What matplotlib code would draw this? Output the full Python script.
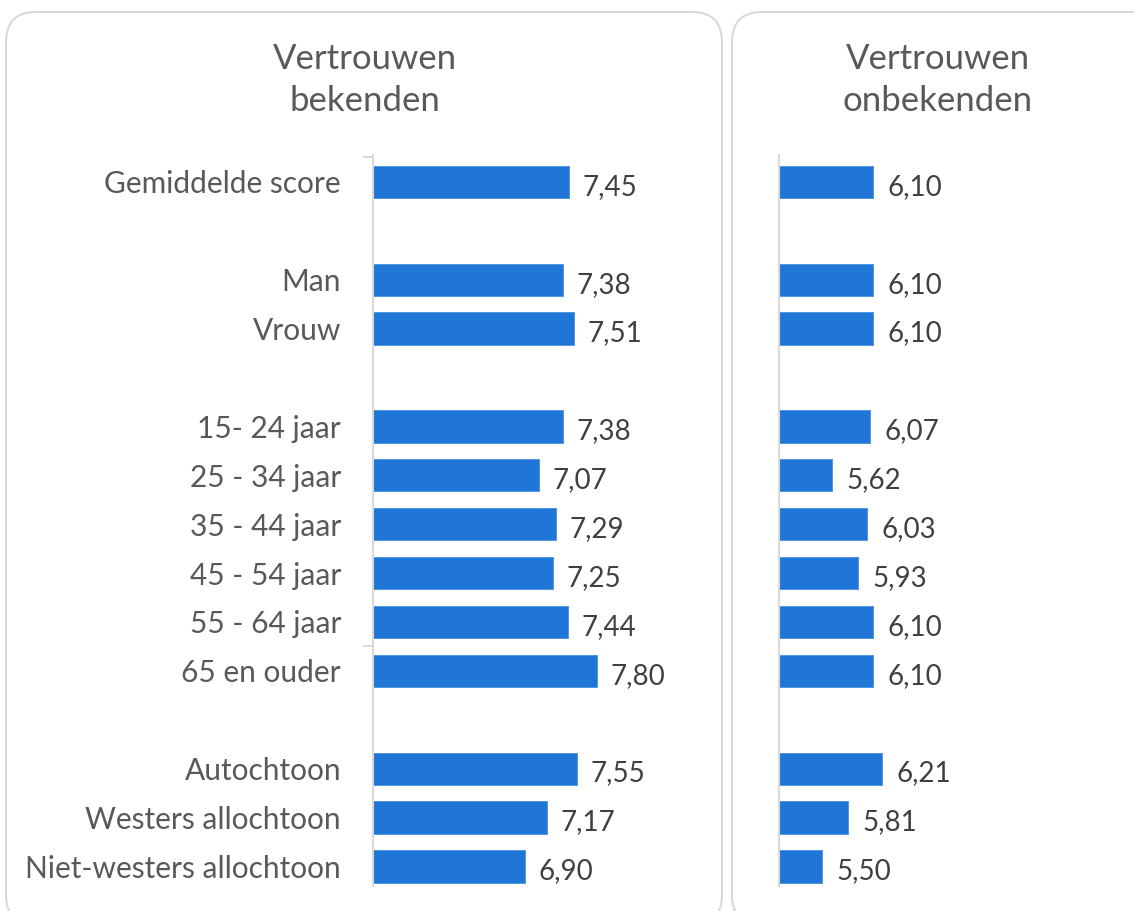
import matplotlib
matplotlib.use("Agg")
import matplotlib.pyplot as plt
from matplotlib.patches import FancyBboxPatch

categories = ["Gemiddelde score", "", "Man", "Vrouw", "",
              "15- 24 jaar", "25 - 34 jaar", "35 - 44 jaar", "45 - 54 jaar",
              "55 - 64 jaar", "65 en ouder", "",
              "Autochtoon", "Westers allochtoon", "Niet-westers allochtoon"]
bekenden = [7.45, None, 7.38, 7.51, None, 7.38, 7.07, 7.29, 7.25, 7.44, 7.80,
            None, 7.55, 7.17, 6.90]
onbekenden = [6.10, None, 6.10, 6.10, None, 6.07, 5.62, 6.03, 5.93, 6.10, 6.10,
              None, 6.21, 5.81, 5.50]
titles = ["Vertrouwen\nbekenden", "Vertrouwen\nonbekenden"]

W, H = 1134, 911
plt.rcParams['font.family'] = ['Lato', 'DejaVu Sans']
fig = plt.figure(figsize=(W / 100, H / 100), dpi=100)

BAR = '#1f76d7'
LABEL = '#595959'
VALUE = '#404040'
GRID = '#d9d9d9'

def px(x0, y0, x1, y1):
    return [x0 / W, 1 - y1 / H, (x1 - x0) / W, (y1 - y0) / H]

# panels
for (x0, y0, x1, y1) in [(6, 12, 722, 925), (732, 12, 1180, 925)]:
    p = FancyBboxPatch((x0 / 100, (H - y1) / 100), (x1 - x0) / 100, (y1 - y0) / 100,
                       boxstyle="round,pad=0,rounding_size=0.3",
                       transform=fig.dpi_scale_trans, facecolor='none',
                       edgecolor=GRID, linewidth=1.5, zorder=-5)
    fig.patches.append(p)

base = 5.0
axL = fig.add_axes(px(373, 155, 713, 886))
axR = fig.add_axes(px(779, 155, 1120, 886))

for ax, vals, xmax in [(axL, bekenden, 9.25), (axR, onbekenden, 9.0)]:
    ax.set_facecolor('none')
    ys = [i for i, v in enumerate(vals) if v is not None]
    vs = [v for v in vals if v is not None]
    ax.barh(ys, [v - base for v in vs], left=base, height=0.66, color=BAR,
            edgecolor='#4a90e2', linewidth=0.6)
    for y, v in zip(ys, vs):
        ax.text(v + 0.17, y + 0.1, f"{v:.2f}".replace('.', ','), va='center',
                ha='left', fontsize=20, color=VALUE)
    ax.set_xlim(base, xmax)
    ax.set_ylim(14.4, -0.55)
    ax.set_xticks([])
    for s in ['top', 'right', 'bottom']:
        ax.spines[s].set_visible(False)
    ax.spines['left'].set_color(GRID)
    ax.spines['left'].set_linewidth(1.5)

axL.set_yticks(range(len(categories)))
axL.set_yticklabels(categories, fontsize=21.5, color=LABEL)
axL.tick_params(axis='y', length=0, pad=23)
axL.set_yticks([-0.5, 9.5], minor=True)
axL.tick_params(axis='y', which='minor', length=7, width=1.5, color=GRID)
axR.set_yticks([])

fig.text(365 / W, 1 - 80 / H, titles[0], ha='center', va='center',
         fontsize=25, color=LABEL, linespacing=1.42)
fig.text(938 / W, 1 - 80 / H, titles[1], ha='center', va='center',
         fontsize=25, color=LABEL, linespacing=1.42)

fig.savefig("out.png", dpi=100)
